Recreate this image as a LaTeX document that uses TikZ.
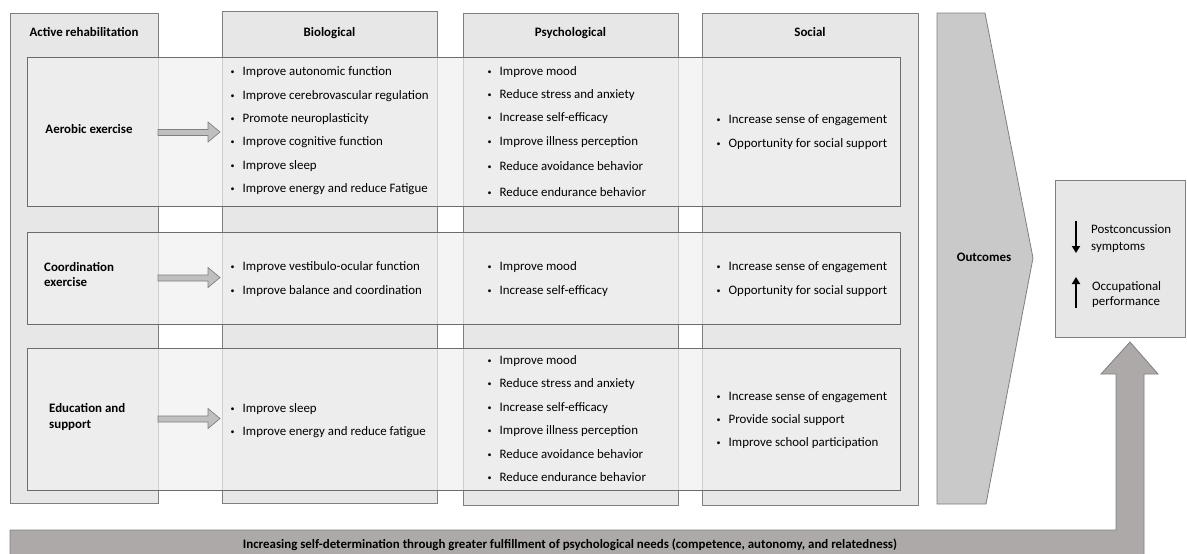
\documentclass[tikz,border=0pt]{standalone}
\usepackage{fontspec}
\setmainfont{Carlito}
\usetikzlibrary{arrows.meta}
\definecolor{colfill}{HTML}{E7E7E7}
\definecolor{boxline}{HTML}{7F7F7F}
\definecolor{rowfill}{HTML}{F0F0F0}
\definecolor{outfill}{HTML}{C9C9C9}
\definecolor{barfill}{HTML}{ADA9A9}
\definecolor{smallarrow}{HTML}{BFBFBF}
\newcommand{\bul}{\makebox[12pt][l]{\raisebox{0.12ex}{\scalebox{0.62}{•}}}}
\tikzset{
  colbox/.style={draw=boxline, fill=colfill, line width=0.9pt, anchor=north west, inner sep=0pt},
  rowbox/.style={draw=boxline!85!black, fill=rowfill, fill opacity=0.7, line width=0.9pt, anchor=north west, inner sep=0pt},
  txt/.style={font=\fontsize{12.9}{15}\selectfont, inner sep=0pt, anchor=base west, text=black},
  head/.style={font=\fontsize{12.9}{15}\selectfont\bfseries, inner sep=0pt, anchor=base, text=black},
  lab/.style={font=\fontsize{12.9}{15}\selectfont\bfseries, inner sep=0pt, anchor=base west, text=black},
  blockarrow/.style={draw=boxline, fill=smallarrow, line width=0.7pt},
}
\begin{document}
\begin{tikzpicture}[x=1pt,y=-1pt]
\useasboundingbox (0,0) rectangle (1187,554);

% column boxes
\node[colbox, minimum width=148pt, minimum height=490pt] (colar) at (10,13) {};
\node[colbox, minimum width=215pt, minimum height=492pt] (colbio) at (222,11) {};
\node[colbox, minimum width=215pt, minimum height=492pt] (colpsy) at (463,13) {};
\node[colbox, minimum width=216pt, minimum height=492pt] (colsoc) at (702,13) {};

% headers
\node[head] (har) at (84,36.5) {Active rehabilitation};
\node[head] (hbio) at (329.5,36.5) {Biological};
\node[head] (hpsy) at (570.5,36.5) {Psychological};
\node[head] (hsoc) at (810,36.5) {Social};

% row boxes
\node[rowbox, minimum width=873pt, minimum height=149pt] (row1) at (27,57) {};
\node[rowbox, minimum width=873pt, minimum height=92pt] (row2) at (27,232) {};
\node[rowbox, minimum width=873pt, minimum height=142pt] (row3) at (27,348) {};

% outcomes chevron
\draw[draw=boxline, fill=outfill, line width=0.8pt] (937,13) -- (985,13) -- (1033,258) -- (986,504) -- (937,504) -- cycle;
\node[head] (hout) at (984,261.5) {Outcomes};

% outcome box
\node[colbox, minimum width=130pt, minimum height=157pt] (outbox) at (1055,180) {};
\node[txt] (o1) at (1091,233.5) {Postconcussion};
\node[txt] (o2) at (1091,250.5) {symptoms};
\node[txt] (o3) at (1092,290.5) {Occupational};
\node[txt] (o4) at (1092,305.5) {performance};
\coordinate (dA) at (1076,221);
\coordinate (dB) at (1076,253);
\coordinate (uA) at (1076,308);
\coordinate (uB) at (1076,277);
\draw[line width=2.3pt, -{Triangle[length=7pt,width=8pt]}] (dA) -- (dB);
\draw[line width=2.3pt, -{Triangle[length=7pt,width=8pt]}] (uA) -- (uB);

% bottom bar arrow
\fill[barfill] (10,530) -- (1116,530) -- (1116,374) -- (1101,374) -- (1130,342) -- (1158,374) -- (1144,374) -- (1144,555) -- (10,555) -- cycle;
\draw[boxline, line width=0.8pt] (10,555) -- (10,530) -- (1116,530) -- (1116,374) -- (1101,374) -- (1130,342) -- (1158,374) -- (1144,374) -- (1144,555);
\node[head] (bar) at (570,548.5) {Increasing self-determination through greater fulfillment of psychological needs (competence, autonomy, and relatedness)};

% row labels
\node[head] (l1) at (89,133.5) {Aerobic exercise};
\node[lab] (l2a) at (44,271.5) {Coordination};
\node[lab] (l2b) at (44,286.5) {exercise};
\node[lab] (l3a) at (49,412.5) {Education and};
\node[lab] (l3b) at (49,428.5) {support};

% small block arrows
\draw[blockarrow] (158,129.5) -- (208,129.5) -- (208,122) -- (220,132) -- (208,142) -- (208,135.5) -- (158,135.5) -- cycle;
\draw[blockarrow] (158,275) -- (208,275) -- (208,267.5) -- (220,277.5) -- (208,287.5) -- (208,281) -- (158,281) -- cycle;
\draw[blockarrow] (158,416) -- (208,416) -- (208,408.5) -- (220,418.5) -- (208,428.5) -- (208,422) -- (158,422) -- cycle;

% row 1 biological
\node[txt] (b11) at (230.5,75.5) {\bul Improve autonomic function};
\node[txt] (b12) at (230.5,99) {\bul Improve cerebrovascular regulation};
\node[txt] (b13) at (230.5,122.5) {\bul Promote neuroplasticity};
\node[txt] (b14) at (230.5,145.5) {\bul Improve cognitive function};
\node[txt] (b15) at (230.5,169) {\bul Improve sleep};
\node[txt] (b16) at (230.5,192.5) {\bul Improve energy and reduce Fatigue};
% row 1 psychological
\node[txt] (p11) at (487.5,75) {\bul Improve mood};
\node[txt] (p12) at (487.5,98.5) {\bul Reduce stress and anxiety};
\node[txt] (p13) at (487.5,121.5) {\bul Increase self-efficacy};
\node[txt] (p14) at (487.5,145) {\bul Improve illness perception};
\node[txt] (p15) at (487.5,170) {\bul Reduce avoidance behavior};
\node[txt] (p16) at (487.5,196.5) {\bul Reduce endurance behavior};
% row 1 social
\node[txt] (s11) at (716.5,123.5) {\bul Increase sense of engagement};
\node[txt] (s12) at (716.5,147) {\bul Opportunity for social support};

% row 2
\node[txt] (b21) at (230.5,270.5) {\bul Improve vestibulo-ocular function};
\node[txt] (b22) at (230.5,294.5) {\bul Improve balance and coordination};
\node[txt] (p21) at (487.5,270.5) {\bul Improve mood};
\node[txt] (p22) at (487.5,294.5) {\bul Increase self-efficacy};
\node[txt] (s21) at (716.5,270.5) {\bul Increase sense of engagement};
\node[txt] (s22) at (716.5,294.5) {\bul Opportunity for social support};

% row 3
\node[txt] (b31) at (230.5,412.5) {\bul Improve sleep};
\node[txt] (b32) at (230.5,435.5) {\bul Improve energy and reduce fatigue};
\node[txt] (p31) at (487.5,364.5) {\bul Improve mood};
\node[txt] (p32) at (487.5,387.5) {\bul Reduce stress and anxiety};
\node[txt] (p33) at (487.5,411) {\bul Increase self-efficacy};
\node[txt] (p34) at (487.5,434.5) {\bul Improve illness perception};
\node[txt] (p35) at (487.5,458) {\bul Reduce avoidance behavior};
\node[txt] (p36) at (487.5,481.5) {\bul Reduce endurance behavior};
\node[txt] (s31) at (716.5,400) {\bul Increase sense of engagement};
\node[txt] (s32) at (716.5,423.5) {\bul Provide social support};
\node[txt] (s33) at (716.5,446.5) {\bul Improve school participation};
\end{tikzpicture}
\end{document}
